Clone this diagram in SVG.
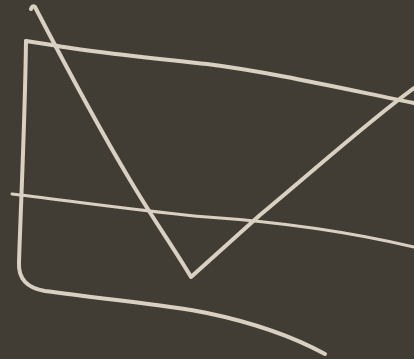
<svg xmlns="http://www.w3.org/2000/svg" width="414" height="359" viewBox="0 0 414 359">
<style>
.chalk{fill:none;stroke:#d9d0c1;stroke-linecap:round;stroke-linejoin:round}
</style>
<rect width="414" height="359" fill="#413d35"/>
<g id="frame"><path class="chalk" stroke-width="4" d="M26 41 C25 120 21 200 19 262 C18 280 28 288 45 291 C110 300 170 305 207 313 C250 322 290 335 325 354"/>
<path class="chalk" stroke-width="4" d="M26 41 L52 45 C90 52 150 58 207 64 C270 72 340 88 414 103"/></g>
<g id="vshape"><path class="chalk" stroke-width="4" d="M31 9 Q32 5 35 7 C60 55 100 130 130 180 C155 222 175 250 191 277 L260 215 C320 165 370 120 414 88"/></g>
<g id="hline"><path class="chalk" stroke-width="3" d="M12 194 C80 202 150 212 207 217 C280 222 350 232 414 247"/></g>
</svg>
